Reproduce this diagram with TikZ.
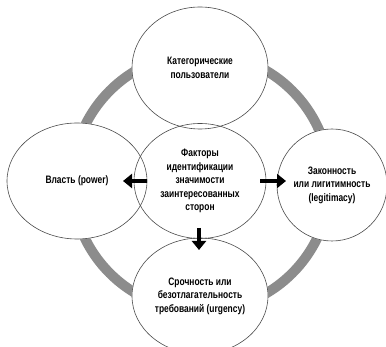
\documentclass[tikz,border=0pt]{standalone}
\usepackage{fontspec}
\setmainfont{Liberation Sans}[FakeStretch=0.78]
\usetikzlibrary{arrows.meta,shapes.geometric,calc,backgrounds}

\begin{document}
\begin{tikzpicture}[
  x=1pt, y=-1pt,
  bubble/.style={ellipse, draw=black!70, line width=0.6pt, inner sep=0pt, align=center,
    font=\bfseries\fontsize{10.8}{13.6}\selectfont},
  push/.style={line width=3.6pt, -{Triangle[length=9pt, width=14pt]}}
]
\useasboundingbox (0,0) rectangle (386,347);
\node[bubble, minimum width=136pt, minimum height=122pt] (users) at (200,68) {Категорические\\пользователи};
\node[bubble, minimum width=140pt, minimum height=116pt] (power) at (77,181) {Власть (power)};
\node[bubble, minimum width=132pt, minimum height=115pt] (factors) at (200,181) {Факторы\\идентификации\\значимости\\заинтересованных\\сторон};
\node[bubble, minimum width=110pt, minimum height=112pt] (legit) at (332,185) {Законность\\или лигитимность\\(legitimacy)};
\node[bubble, minimum width=136pt, minimum height=116pt] (urgency) at (200,296) {Срочность или\\безотлагательность\\требований (urgency)};
% ring and white fills behind the bubbles
\begin{scope}[on background layer]
  \draw[black!45, line width=10pt] (201,182) circle (129pt);
  \foreach \b in {users,power,factors,legit,urgency}
    \path let \p1=(\b.east), \p2=(\b.north), \p3=(\b.center) in
      [fill=white] (\p3) ellipse ({\x1-\x3} and {\y2-\y3});
\end{scope}
% arrows
\coordinate (powertip) at (123,181);
\coordinate (legittail) at ([xshift=-6pt]factors.east);
\coordinate (legittip) at (286,181);
\coordinate (urgtail) at ([yshift=11pt]factors.south);
\coordinate (urgtip) at (199,250);
\draw[push] (power.east |- powertip) -- (powertip);
\draw[push] (legittail |- legittip) -- (legittip);
\draw[push] (urgtip |- urgtail) -- (urgtip);
\end{tikzpicture}
\end{document}
